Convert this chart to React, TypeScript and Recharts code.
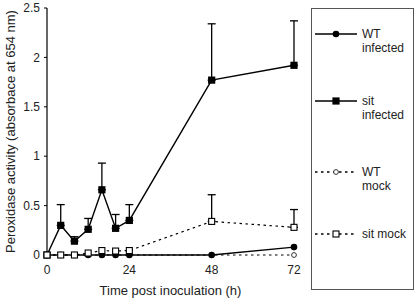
import { CartesianGrid, ErrorBar, Label, Legend, Line, LineChart, XAxis, YAxis } from "recharts";

const TIMES = [0, 4, 8, 12, 16, 20, 24, 48, 72];
const WT_INFECTED = [0, 0, 0, 0, 0, 0, 0, 0, 0.08];
const SIT_INFECTED = [0, 0.3, 0.14, 0.26, 0.66, 0.27, 0.35, 1.77, 1.92];
const SIT_INFECTED_ERR = [null, 0.21, 0.045, 0.11, 0.27, 0.14, 0.16, 0.57, 0.45];
const WT_MOCK = [0, 0, 0, 0, 0, 0, 0, 0, 0];
const SIT_MOCK = [0, 0, 0, 0.02, 0.045, 0.04, 0.045, 0.34, 0.28];
const SIT_MOCK_ERR = [null, null, null, null, null, null, null, 0.27, 0.18];

const X_TICKS = [0, 24, 48, 72];
const Y_TICKS = [0, 0.5, 1, 1.5, 2, 2.5];

const LEGEND_ITEMS = [
  { lines: ["WT", "infected"], dashed: false, marker: "circle" },
  { lines: ["sit", "infected"], dashed: false, marker: "square" },
  { lines: ["WT", "mock"], dashed: true, marker: "openCircle" },
  { lines: ["sit mock"], dashed: true, marker: "openSquare" }
];
const LEGEND_ROWS = [25, 92, 163, 225];

const FONT = "'Liberation Sans', Arial, sans-serif";
const DASH = "2.5 3.5";

const rows = TIMES.map((t, i) => ({
  t,
  wtInf: WT_INFECTED[i],
  sitInf: SIT_INFECTED[i],
  sitInfErr: SIT_INFECTED_ERR[i] == null ? null : [0, SIT_INFECTED_ERR[i]],
  wtMock: WT_MOCK[i],
  sitMock: SIT_MOCK[i],
  sitMockErr: SIT_MOCK_ERR[i] == null ? null : [0, SIT_MOCK_ERR[i]]
}));

function marker(kind: string, cx: number, cy: number, key?: number | string) {
  if (kind === "circle") return <circle key={key} cx={cx} cy={cy} r={3.3} fill="#000" stroke="none" />;
  if (kind === "openCircle") return <circle key={key} cx={cx} cy={cy} r={2.4} fill="#fff" stroke="#333" strokeWidth={1} />;
  if (kind === "square") return <rect key={key} x={cx - 3.6} y={cy - 3.6} width={7.2} height={7.2} fill="#000" />;
  return <rect key={key} x={cx - 3} y={cy - 3} width={6} height={6} fill="#fff" stroke="#000" strokeWidth={1.1} />;
}

const dotOf = (kind: string) => (p: any) => marker(kind, p.cx, p.cy, p.index);

function LegendBox() {
  return (
    <div style={{ width: 103, height: 282, boxSizing: "border-box", border: "1px solid #555", background: "#fff" }}>
      <svg width={101} height={280} style={{ display: "block" }}>
        {LEGEND_ITEMS.map((item, i) => {
          const y = LEGEND_ROWS[i];
          return (
            <g key={item.lines.join(" ")}>
              <line x1={3} x2={45} y1={y} y2={y} stroke="#000" strokeWidth={1.3} strokeDasharray={item.dashed ? DASH : undefined} />
              {marker(item.marker, 24, y)}
              {item.lines.map((s, j) => (
                <text key={s} x={50} y={y + 4.3 + j * 14} fontSize={12} fontFamily={FONT} fill="#222">
                  {s}
                </text>
              ))}
            </g>
          );
        })}
      </svg>
    </div>
  );
}

export default function App() {
  return (
    <div style={{ position: "absolute", left: 0, top: 0, width: 415, height: 298, background: "#fff" }}>
      <LineChart width={415} height={298} data={rows} margin={{ top: 8, right: 121, bottom: 0, left: 0 }}>
        <CartesianGrid stroke="none" />
        <XAxis
          dataKey="t"
          type="number"
          domain={[0, 72]}
          ticks={X_TICKS}
          axisLine={false}
          tickLine={false}
          tickSize={0}
          tickMargin={10}
          height={43}
          tick={{ fontSize: 12, fontFamily: FONT, fill: "#222" }}
        >
          <Label value="Time post inoculation (h)" position="insideBottom" offset={3.5} style={{ fontSize: 13, fontFamily: FONT, fill: "#222" }} />
        </XAxis>
        <YAxis
          type="number"
          domain={[0, 2.5]}
          ticks={Y_TICKS}
          width={47}
          axisLine={{ stroke: "#000", strokeWidth: 1.2 }}
          tickLine={{ stroke: "#000" }}
          tickSize={3}
          tickMargin={4}
          tick={{ fontSize: 12, fontFamily: FONT, fill: "#222" }}
        >
          <Label
            content={(props: any) => {
              const vb = props.viewBox || { x: 0, y: 8, height: 247 };
              const cx = vb.x + 10;
              const cy = vb.y + vb.height / 2;
              return (
                <text
                  x={cx}
                  y={cy}
                  transform={`rotate(-90 ${cx} ${cy})`}
                  textAnchor="middle"
                  dominantBaseline="central"
                  fontSize={13}
                  fontFamily={FONT}
                  fill="#222"
                >
                  Peroxidase activity (absorbace at 654 nm)
                </text>
              );
            }}
          />
        </YAxis>
        <Legend
          layout="vertical"
          align="center"
          verticalAlign="middle"
          wrapperStyle={{ left: 311, top: 8, width: 103 }}
          content={() => <LegendBox />}
        />
        <Line dataKey="wtMock" stroke="#000" strokeWidth={1.2} strokeDasharray={DASH} dot={dotOf("openCircle")} isAnimationActive={false} />
        <Line dataKey="wtInf" stroke="#000" strokeWidth={1.4} dot={dotOf("circle")} isAnimationActive={false} />
        <Line dataKey="sitInf" stroke="#000" strokeWidth={1.4} dot={dotOf("square")} isAnimationActive={false}>
          <ErrorBar dataKey="sitInfErr" direction="y" width={4} stroke="#000" strokeWidth={1.3} />
        </Line>
        <Line dataKey="sitMock" stroke="#000" strokeWidth={1.2} strokeDasharray={DASH} dot={dotOf("openSquare")} isAnimationActive={false}>
          <ErrorBar dataKey="sitMockErr" direction="y" width={4} stroke="#000" strokeWidth={1.3} />
        </Line>
      </LineChart>
    </div>
  );
}
